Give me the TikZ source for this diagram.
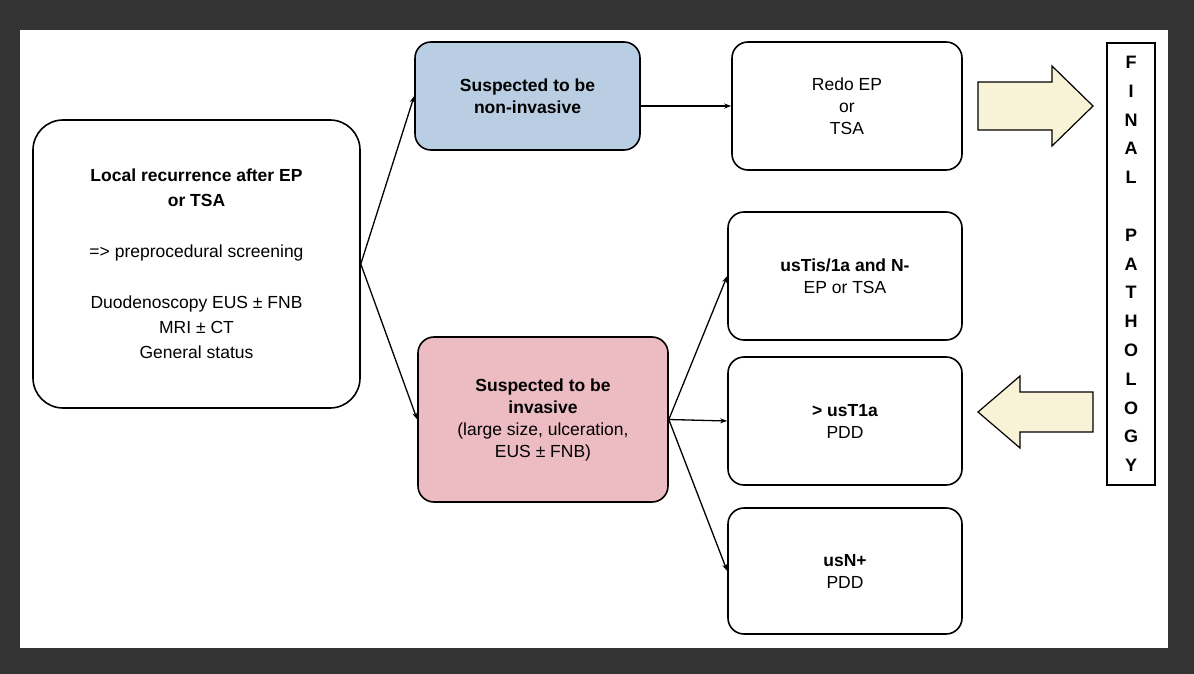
\documentclass[tikz,border=0pt]{standalone}
\usepackage{fontspec}
\setmainfont{Liberation Sans}
\usetikzlibrary{arrows.meta}
\definecolor{bg}{HTML}{333333}
\definecolor{blu}{HTML}{B9CEE3}
\definecolor{pnk}{HTML}{EDBCC2}
\definecolor{yel}{HTML}{F8F3D6}
\begin{document}
\begin{tikzpicture}[x=1pt,y=-1pt,
  box/.style={draw,line width=1.6pt,rounded corners=16pt,align=center,font=\fontsize{17.5}{22}\selectfont},
  con/.style={line width=1.3pt,-{Stealth[length=7pt,width=5pt]}},
  fat/.style={draw,line width=1.2pt,fill=yel,line join=miter}]
\fill[bg] (0,0) rectangle (1194,674);
\fill[white] (20,30) rectangle (1168,648);
\node[box,minimum width=327pt,minimum height=288pt,rounded corners=30pt,font=\fontsize{17.5}{25}\selectfont] (L) at (196.5,264) {\textbf{Local recurrence after EP}\\\textbf{or TSA}\\[26pt]=> preprocedural screening\\[26pt]Duodenoscopy EUS ± FNB\\MRI ± CT\\General status};
\node[box,fill=blu,minimum width=225pt,minimum height=108pt] (B) at (527.5,96) {\textbf{Suspected to be}\\\textbf{non-invasive}};
\node[box,fill=pnk,minimum width=250pt,minimum height=165pt] (R) at (543,419.5) {\textbf{Suspected to be}\\\textbf{invasive}\\(large size, ulceration,\\EUS ± FNB)};
\node[box,minimum width=230pt,minimum height=128pt] (E) at (847,106) {Redo EP\\or\\TSA};
\node[box,minimum width=234pt,minimum height=128pt] (T) at (845,276) {\textbf{usTis/1a and N-}\\EP or TSA};
\node[box,minimum width=234pt,minimum height=128pt] (U) at (845,421) {\textbf{> usT1a}\\PDD};
\node[box,minimum width=234pt,minimum height=126pt] (N) at (845,571) {\textbf{usN+}\\PDD};
\node[draw,line width=1.5pt,minimum width=48pt,minimum height=442pt,align=center,font=\bfseries\fontsize{18}{28.8}\selectfont] (F) at (1131,264) {F\\I\\N\\A\\L\\\\P\\A\\T\\H\\O\\L\\O\\G\\Y};
\draw[fat] (978,82) -- (1052,82) -- (1052,66) -- (1093,106) -- (1052,146) -- (1052,130) -- (978,130) -- cycle;
\draw[fat] (1093,392) -- (1020,392) -- (1020,376) -- (978,412) -- (1020,448) -- (1020,432) -- (1093,432) -- cycle;
\draw[con] (L.east) -- (B.west);
\draw[con] (L.east) -- (R.west);
\draw[con] (B.east |- E.west) -- (E.west);
\draw[con] (R.east) -- (T.west);
\draw[con] (R.east) -- (U.west);
\draw[con] (R.east) -- (N.west);
\end{tikzpicture}
\end{document}
